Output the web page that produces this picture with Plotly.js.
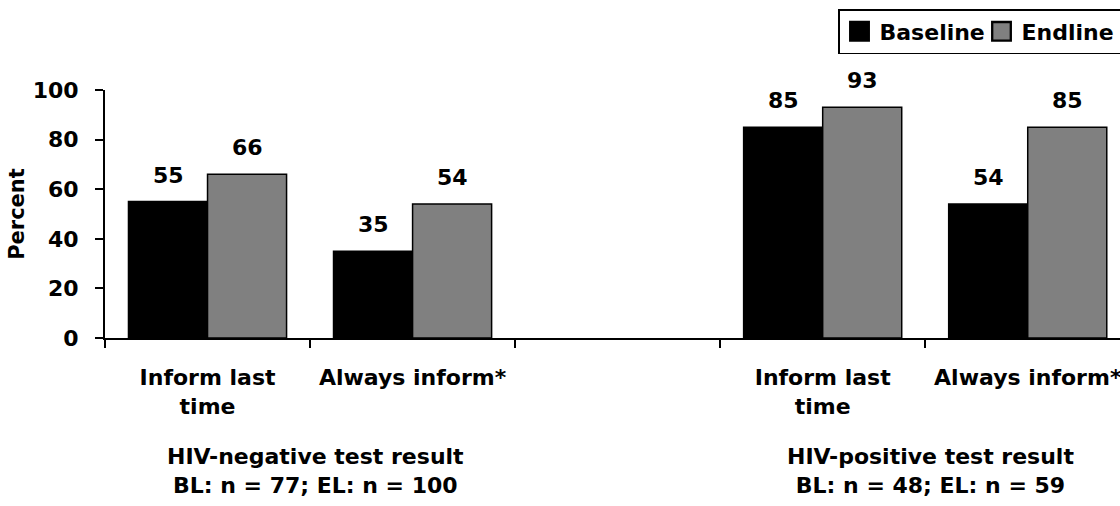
<!DOCTYPE html>
<html>
<head>
<meta charset="utf-8">
<script src="https://cdn.plot.ly/plotly-3.0.1.min.js"></script>
<style>
  html, body { margin: 0; padding: 0; background: #ffffff; overflow: hidden; }
  #chart { width: 1120px; height: 506px; }
</style>
</head>
<body>
<div id="chart"></div>
<script>
// ---- data ----
const categoryKeys = ['neg_last', 'neg_always', 'gap', 'pos_last', 'pos_always'];
const tickLabels = ['Inform last<br>time', 'Always inform*', '', 'Inform last<br>time', 'Always inform*'];
const baselineValues = [55, 35, null, 85, 54];
const endlineValues = [66, 54, null, 93, 85];
const seriesNames = ['Baseline', 'Endline'];
const groupLabels = ['HIV-negative test result<br>BL: n = 77; EL: n = 100',
                     'HIV-positive test result<br>BL: n = 48; EL: n = 59'];
const groupFirstCategory = ['neg_last', 'pos_last'];
const yTicks = [0, 20, 40, 60, 80, 100];

// ---- style / layout constants ----
const W = 1120, H = 506;
const M = { l: 105, r: 0, t: 90, b: 168 };
const X_RANGE = [-0.5, 4.45];
const BARGAP = 0.229;
const FONT = { family: 'DejaVu Sans', weight: 'bold', color: '#000000', size: 22 };
const catPx = (W - M.l - M.r) / (X_RANGE[1] - X_RANGE[0]);
const barShift = catPx * (1 - BARGAP) / 4;

const colors = ['#000000', '#808080'];
const allValues = [baselineValues, endlineValues];

const traces = allValues.map((vals, i) => ({
  type: 'bar',
  name: seriesNames[i],
  x: categoryKeys,
  y: vals,
  marker: { color: colors[i], line: { color: '#000000', width: 1.5 } },
  hoverinfo: 'skip'
}));

const annotations = [];
allValues.forEach((vals, i) => {
  vals.forEach((v, j) => {
    if (v === null) return;
    annotations.push({
      x: categoryKeys[j], y: v, xref: 'x', yref: 'y',
      text: String(v), showarrow: false,
      xanchor: 'center', yanchor: 'bottom',
      xshift: (i === 0 ? -1 : 1) * barShift, yshift: 12,
      font: FONT
    });
  });
});
groupLabels.forEach((lab, g) => {
  annotations.push({
    x: categoryKeys.indexOf(groupFirstCategory[g]) + 0.5, y: 0,
    xref: 'x', yref: 'paper',
    text: lab, showarrow: false,
    xanchor: 'center', yanchor: 'top', yshift: -104, xshift: 5,
    font: FONT
  });
});

const layout = {
  width: W, height: H,
  margin: { l: M.l, r: M.r, t: M.t, b: M.b, autoexpand: false },
  paper_bgcolor: '#ffffff', plot_bgcolor: '#ffffff',
  font: FONT,
  barmode: 'group', bargap: BARGAP, bargroupgap: 0,
  showlegend: true,
  legend: {
    orientation: 'h', x: (838 - M.l) / (W - M.l - M.r), y: (H - M.b - 9) / (H - M.t - M.b),
    xanchor: 'left', yanchor: 'top',
    bordercolor: '#000000', borderwidth: 1.5, bgcolor: '#ffffff',
    font: FONT, traceorder: 'normal', entrywidth: 97
  },
  xaxis: {
    type: 'category', range: X_RANGE,
    tickmode: 'array', tickvals: categoryKeys, ticktext: tickLabels,
    tickson: 'boundaries', ticks: 'outside', ticklen: 8, tickwidth: 2, tickcolor: '#000000',
    showline: true, linecolor: '#000000', linewidth: 2,
    showgrid: false, zeroline: false, fixedrange: true,
    ticklabeloverflow: 'allow', ticklabelstandoff: 19,
    tickfont: FONT
  },
  yaxis: {
    range: [0, 100], tickmode: 'array', tickvals: yTicks,
    ticks: 'outside', ticklen: 8, tickwidth: 2, tickcolor: '#000000',
    showline: true, linecolor: '#000000', linewidth: 2,
    showgrid: false, zeroline: false, fixedrange: true,
    ticklabelstandoff: 12,
    tickfont: FONT,
    title: { text: 'Percent', font: Object.assign({}, FONT, { size: 21 }), standoff: 2 }
  },
  annotations: annotations
};

Plotly.newPlot('chart', traces, layout, { displayModeBar: false, staticPlot: true }).then(() => {
  document.querySelectorAll('#chart .legendpoints path').forEach(p => {
    const t = p.getAttribute('transform') || '';
    p.setAttribute('transform', (t + ' scale(1.55)').trim());
  });
});
</script>
</body>
</html>
